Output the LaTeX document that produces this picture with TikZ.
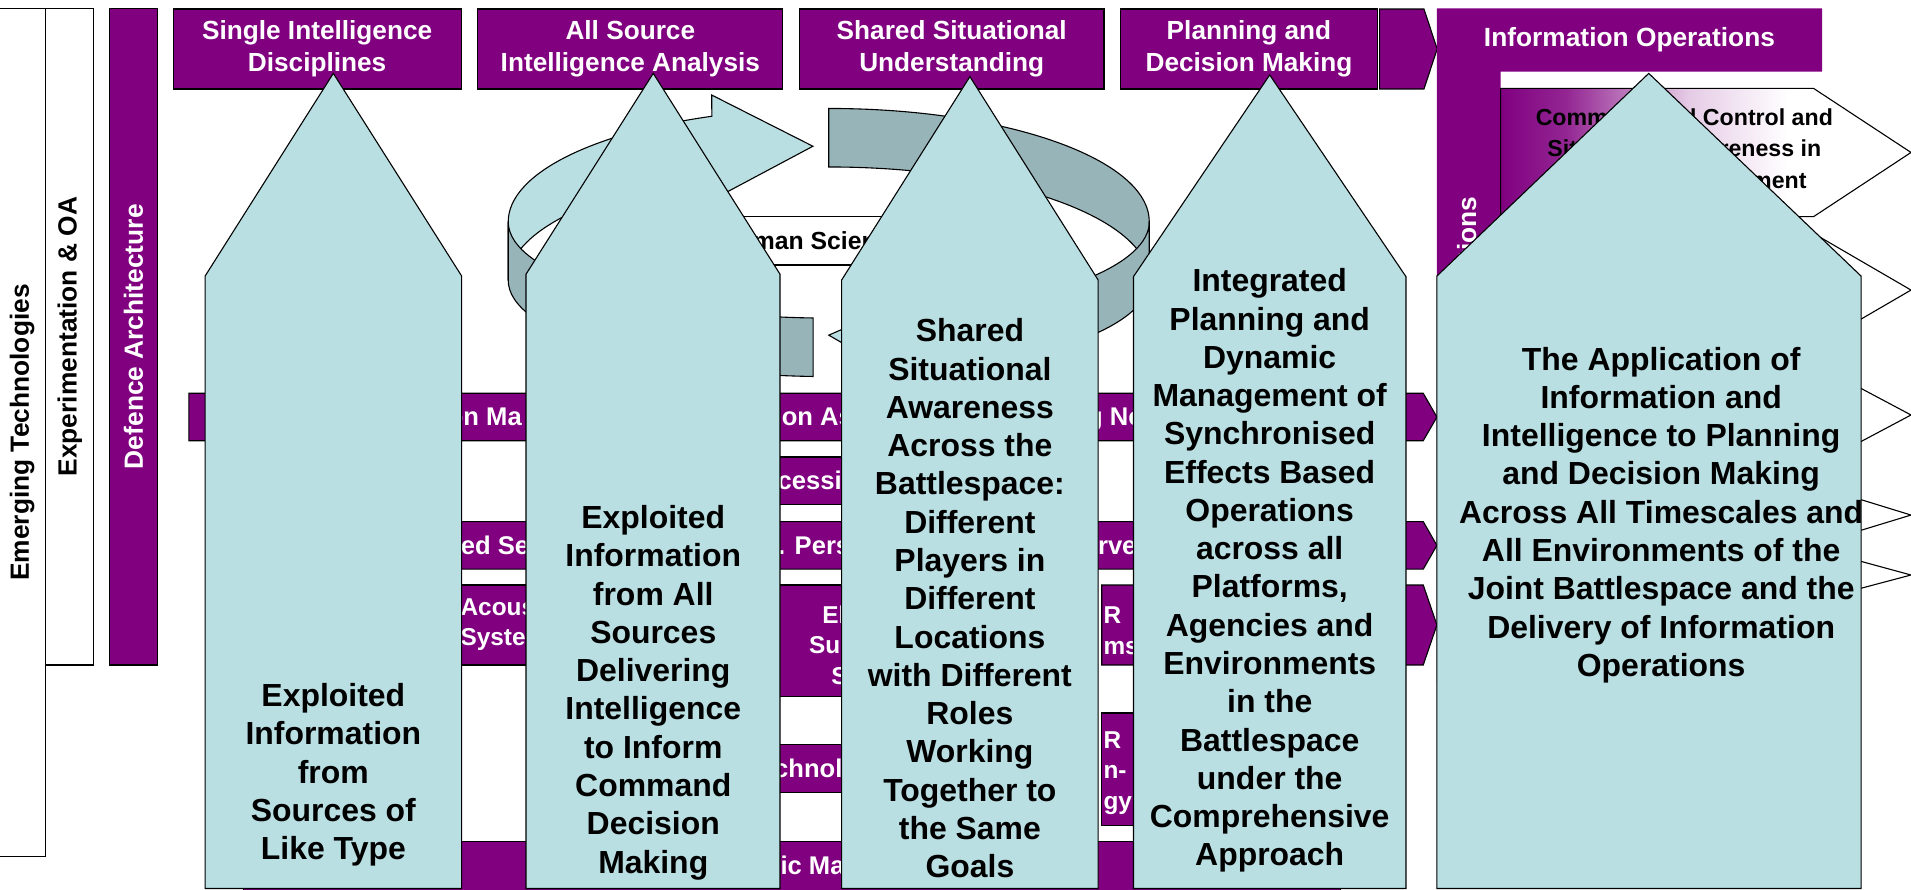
\documentclass[tikz,border=0pt]{standalone}
\usepackage{fontspec}
\setmainfont{Liberation Sans}
\usetikzlibrary{positioning}
\usetikzlibrary{calc}

\definecolor{ioPurple}{RGB}{128,0,128}
\definecolor{ioBlue}{RGB}{186,223,227}
\definecolor{ioGrey}{RGB}{151,180,185}

\pgfdeclarehorizontalshading{ctrlfade}{100bp}{color(0bp)=(ioPurple); color(25bp)=(ioPurple); color(33bp)=(ioPurple!85!white); color(48bp)=(ioPurple!20!white); color(60bp)=(white); color(100bp)=(white)}

\begin{document}
\begin{tikzpicture}[x=1pt, y=-1pt, line width=.9pt,
  sidebox/.style={draw, rotate=90, inner sep=0, font=\fontsize{21.6}{26}\selectfont\bfseries},
  headbox/.style={draw, fill=ioPurple, text=white, align=center, inner sep=0, minimum height=65.6pt, font=\fontsize{21.5}{26}\selectfont\bfseries},
  bar/.style={draw, fill=ioPurple},
  bartext/.style={text=white, inner sep=0, anchor=base west, font=\fontsize{21}{24}\selectfont\bfseries},
  barlines/.style={text=white, inner sep=0, align=left, anchor=north west, font=\fontsize{20}{25}\selectfont\bfseries},
  pent/.style={draw, fill=white},
  ring/.style={draw, fill=ioGrey},
  ringhi/.style={draw, fill=ioBlue},
  bigarrow/.style={draw, fill=ioBlue},
  arrowtext/.style={align=center, anchor=north, inner sep=0, font=\fontsize{26.2}{31.4}\selectfont\bfseries}
]
\useasboundingbox (0,0) rectangle (1568,730);

\def \arrowfoot{729}

% side columns
\node[sidebox, minimum width=696.1pt, minimum height=38.4pt] (emerging) at (18.2,354.9) {Emerging Technologies};
\node[sidebox, minimum width=538.8pt, minimum height=39.6pt] (experiment) at (57.2,276.2) {Experimentation \& OA};
\node[sidebox, fill=ioPurple, text=white, minimum width=538.8pt, minimum height=39.6pt] (defarch) at (109.5,276.2) {Defence Architecture};

% column headings
\node[headbox, minimum width=236.4pt] (hsingle) at (260.2,40.2) {Single Intelligence\\Disciplines};
\node[headbox, minimum width=250.2pt, right=12.8pt of hsingle] (hallsource) {All Source\\Intelligence Analysis};
\node[headbox, minimum width=249.8pt, right=12.8pt of hallsource] (hshared) {Shared Situational\\Understanding};
\node[headbox, minimum width=210.6pt, right=12.8pt of hshared] (hplanning) {Planning and\\Decision Making};
\draw[bar] (1132,7.4) -- (1168.4,7.4) -- (1179.2,40.2) -- (1168.4,73) -- (1132,73) -- cycle;

% information operations frame
\fill[ioPurple] (1179,6.8) -- (1495,6.8) -- (1495,58.8) -- (1231.3,58.8) -- (1231.3,560) -- (1179,560) -- cycle;
\node[text=white, font=\fontsize{21.6}{26}\selectfont\bfseries] (infoops) at (1337,32.8) {Information Operations};
\node[text=white, rotate=90, anchor=east, inner sep=0, font=\fontsize{21.6}{26}\selectfont\bfseries] (infoopsside) at (1203.4,161) {tions};

% environment pentagons
\path[draw, shading=ctrlfade] (1231.3,72.5) -- (1488,72.5) -- (1568,125.1) -- (1488,177.8) -- (1231.3,177.8) -- cycle;
\node[align=center, font=\fontsize{19}{26}\selectfont\bfseries] (ctrlsa) at (1382,122) {Command and Control and\\Situational Awareness in\\the Joint Environment};
\draw[pent] (1231.3,191.5) -- (1488,191.5) -- (1568,238) -- (1488,284.5) -- (1231.3,284.5) -- cycle;
\draw[pent] (1231.3,298) -- (1488,298) -- (1568,340.5) -- (1488,383) -- (1231.3,383) -- cycle;
\draw[pent] (1231.3,398) -- (1488,398) -- (1568,422.6) -- (1488,447) -- (1231.3,447) -- cycle;
\draw[pent] (1231.3,450) -- (1488,450) -- (1568,471.8) -- (1488,493) -- (1231.3,493) -- cycle;

% capability bars
\draw[bar] (155,322.7) -- (1167.8,322.7) -- (1179,342.2) -- (1167.8,361.6) -- (155,361.6) -- cycle;
\draw[bar] (560,375) rectangle (800,413.6);
\draw[bar] (200,428) -- (1167.8,428) -- (1179,447.5) -- (1167.8,467) -- (200,467) -- cycle;
\draw[bar] (200,480) rectangle (520,545.6);
\draw[bar] (560,480) rectangle (850,571.6);
\draw[bar] (904,480) -- (1167.8,480) -- (1179,512.8) -- (1167.8,545.6) -- (904,545.6) -- cycle;
\draw[bar] (560,611) rectangle (800,650);
\draw[bar] (904,585) rectangle (1060,677);
\draw[bar] (200,690.6) rectangle (1100,740);

\node[bartext] (infomgmt) at (367,349.5) {on Ma};
\node[bartext] (infoassur) at (641,349.5) {on As};
\node[bartext] (networks) at (891.6,349.5) {g Ne};
\node[bartext] (processing) at (637.6,401.8) {cessin};
\node[bartext] (sensors) at (377.7,455) {ed Se};
\node[bartext] (persist) at (638,455) {. Pers};
\node[bartext] (surveil) at (900.5,455) {rve};
\node[barlines] (acoustic) at (377.5,490.6) {Acous\\Syste};
\node[barlines] (elecsurv) at (663.4,496.6) {\hspace*{11pt}Ele\\Sur\\\hspace*{18.3pt}Sy};
\node[barlines] (istarsys) at (905,497.6) {R\\ms};
\node[bartext] (technology) at (634.8,638) {chnolo};
\node[barlines] (istartech) at (905,599.6) {R\\n-\\gy};
\node[bartext] (dynmgmt) at (640,717.5) {ic Ma};

% the cycle ribbon
\begin{scope}[shift={(680,182)}]
  \draw[ringhi] (180:263 and 93) arc[start angle=180, end angle=248.6, x radius=263, y radius=93]
    -- (-96,-104) -- (-13,-62) -- (-90,-21) -- (-96,-38.6)
    arc[start angle=248.6, end angle=180, x radius=263, y radius=93] -- cycle;
  \draw[ring] (270:263 and 93) arc[start angle=270, end angle=360, x radius=263, y radius=93]
    -- ++(0,48) arc[start angle=360, end angle=270, x radius=263, y radius=93] -- cycle;
  \draw[ring] (92.8:263 and 79) arc[start angle=92.8, end angle=180, x radius=263, y radius=79]
    -- ++(0,48) arc[start angle=180, end angle=92.8, x radius=263, y radius=79] -- cycle;
  \draw[ring] (0:263 and 79) arc[start angle=0, end angle=71.6, x radius=263, y radius=79]
    -- ++(0,48) arc[start angle=71.6, end angle=0, x radius=263, y radius=79] -- cycle;
  \draw[ringhi] (83,57) -- (0,93) -- (83,141) -- cycle;
\end{scope}
\node[draw, fill=white, minimum width=220pt, minimum height=39.6pt, inner sep=0, font=\fontsize{20.3}{24}\selectfont\bfseries] (humansci) at (672,197.6) {Human Sciences};

% big arrows
\draw[bigarrow] (168.3,\arrowfoot) -- (168.3,226.5) -- (273.5,60.2) -- (378.8,226.5) -- (378.8,\arrowfoot) -- cycle;
\draw[bigarrow] (431.6,\arrowfoot) -- (431.6,225) -- (536,60.2) -- (640,225) -- (640,\arrowfoot) -- cycle;
\draw[bigarrow] (690.6,\arrowfoot) -- (690.6,229.7) -- (795.8,62.9) -- (901,229.7) -- (901,\arrowfoot) -- cycle;
\draw[bigarrow] (930,\arrowfoot) -- (930,227) -- (1041.8,61.5) -- (1153.6,227) -- (1153.6,\arrowfoot) -- cycle;
\draw[bigarrow] (1179,\arrowfoot) -- (1179,226.5) -- (1352.8,60.2) -- (1527,226.5) -- (1527,\arrowfoot) -- cycle;

\node[arrowtext] (liketype) at (273.5,560.3) {Exploited\\Information\\from\\Sources of\\Like Type};
\node[arrowtext] (allsources) at (536,414.3) {Exploited\\Information\\from All\\Sources\\Delivering\\Intelligence\\to Inform\\Command\\Decision\\Making};
\node[arrowtext] (awareness) at (795.8,261.1) {Shared\\Situational\\Awareness\\Across the\\Battlespace:\\Different\\Players in\\Different\\Locations\\with Different\\Roles\\Working\\Together to\\the Same\\Goals};
\node[arrowtext] (integrated) at (1041.8,220) {Integrated\\Planning and\\Dynamic\\Management of\\Synchronised\\Effects Based\\Operations\\across all\\Platforms,\\Agencies and\\Environments\\in the\\Battlespace\\under the\\Comprehensive\\Approach};
\node[arrowtext] (application) at (1363,284.3) {The Application of\\Information and\\Intelligence to Planning\\and Decision Making\\Across All Timescales and\\All Environments of the\\Joint Battlespace and the\\Delivery of Information\\Operations};

\end{tikzpicture}
\end{document}
